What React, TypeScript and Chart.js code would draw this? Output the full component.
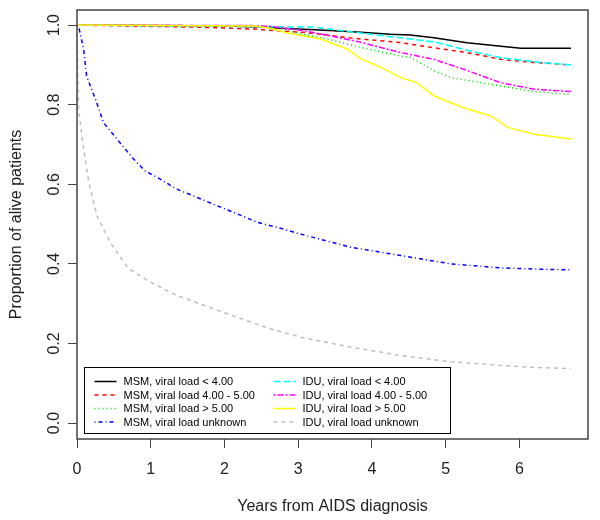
import React, { useEffect, useRef } from "react";
import { Chart, registerables } from "chart.js";

Chart.register(...registerables);

const FONT = "'Liberation Sans', Arial, Helvetica, sans-serif";

// ---- data (Kaplan-Meier survival) ----
const seriesLabels = [
  "MSM, viral load < 4.00",
  "MSM, viral load 4.00 - 5.00",
  "MSM, viral load > 5.00",
  "MSM, viral load unknown",
  "IDU, viral load < 4.00",
  "IDU, viral load 4.00 - 5.00",
  "IDU, viral load > 5.00",
  "IDU, viral load unknown",
];
const seriesColors = ["#000000", "#FF0000", "#00CD00", "#0000FF", "#00FFFF", "#FF00FF", "#FFFF00", "#BEBEBE"];
const seriesDashes = [[], [4, 4], [1, 3], [1, 3, 4, 3], [7, 3], [2, 2, 6, 2], [], [4, 4]];

const msmLt4Time = [0, 2.0, 2.5, 2.76, 3.3, 3.85, 4.25, 4.52, 4.84, 5.29, 5.75, 6.02, 6.7];
const msmLt4Surv = [1, 0.998, 0.995, 0.992, 0.988, 0.982, 0.977, 0.975, 0.968, 0.956, 0.947, 0.942, 0.942];

const msm45Time = [0, 1.6, 2.0, 2.4, 2.7, 3.07, 3.4, 3.75, 4.39, 4.84, 5.29, 5.75, 6.2, 6.7];
const msm45Surv = [1, 0.995, 0.993, 0.99, 0.986, 0.982, 0.975, 0.967, 0.956, 0.943, 0.931, 0.914, 0.906, 0.9];

const msmGt5Time = [0, 2.5, 2.76, 3.07, 3.44, 3.85, 4.39, 4.52, 4.84, 5.07, 5.75, 6.2, 6.7];
const msmGt5Surv = [1, 0.997, 0.992, 0.977, 0.963, 0.944, 0.922, 0.919, 0.886, 0.868, 0.847, 0.833, 0.826];

const msmUnkTime = [0, 0.03, 0.09, 0.13, 0.25, 0.36, 0.47, 0.58, 0.77, 0.92, 1.13, 1.35, 1.63, 1.9, 2.17, 2.44, 2.75, 3.03, 3.71, 4.39, 5.07, 5.75, 6.2, 6.7];
const msmUnkSurv = [1, 0.99, 0.939, 0.872, 0.814, 0.755, 0.73, 0.705, 0.663, 0.634, 0.613, 0.588, 0.567, 0.546, 0.526, 0.505, 0.49, 0.475, 0.442, 0.421, 0.4, 0.39, 0.387, 0.385];

const iduLt4Time = [0, 3.2, 3.5, 3.85, 4.39, 4.84, 5.29, 5.75, 6.29, 6.7];
const iduLt4Surv = [1, 0.995, 0.988, 0.98, 0.968, 0.958, 0.937, 0.918, 0.906, 0.9];

const idu45Time = [0, 2.3, 2.62, 3.07, 3.44, 3.85, 4.39, 4.84, 5.29, 5.75, 6.2, 6.7];
const idu45Surv = [1, 0.999, 0.997, 0.986, 0.973, 0.957, 0.931, 0.914, 0.886, 0.855, 0.839, 0.833];

const iduGt5Time = [0, 2.4, 2.62, 2.85, 3.3, 3.66, 3.85, 4.12, 4.39, 4.61, 4.84, 5.07, 5.29, 5.61, 5.84, 6.2, 6.7];
const iduGt5Surv = [1, 0.998, 0.992, 0.98, 0.965, 0.94, 0.915, 0.894, 0.868, 0.855, 0.822, 0.805, 0.789, 0.772, 0.743, 0.726, 0.714];

const iduUnkTime = [0, 0.02, 0.09, 0.16, 0.27, 0.45, 0.7, 1.0, 1.35, 1.72, 2.17, 2.62, 3.03, 3.71, 4.39, 5.07, 5.75, 6.2, 6.7];
const iduUnkSurv = [1, 0.79, 0.688, 0.605, 0.521, 0.454, 0.388, 0.354, 0.321, 0.296, 0.266, 0.237, 0.216, 0.191, 0.17, 0.154, 0.145, 0.14, 0.137];

const seriesTimes = [msmLt4Time, msm45Time, msmGt5Time, msmUnkTime, iduLt4Time, idu45Time, iduGt5Time, iduUnkTime];
const seriesSurv = [msmLt4Surv, msm45Surv, msmGt5Surv, msmUnkSurv, iduLt4Surv, idu45Surv, iduGt5Surv, iduUnkSurv];

const xTitle = "Years from AIDS diagnosis";
const yTitle = "Proportion of alive patients";

const AXIS_COLOR = "#444444";
const TEXT_COLOR = "#222222";

// Box around the plot region + R-style legend (bottom-left, two columns)
const rFramePlugin = {
  id: "rFrame",
  afterDraw(chart: any) {
    const { ctx, chartArea } = chart;
    ctx.save();
    ctx.strokeStyle = AXIS_COLOR;
    ctx.lineWidth = 1.5;
    ctx.setLineDash([]);
    ctx.strokeRect(chartArea.left, chartArea.top, chartArea.right - chartArea.left, chartArea.bottom - chartArea.top);

    // legend
    const bx = Math.round(chartArea.left + 7) + 0.5;
    const bw = 366;
    const bh = 66;
    const by = Math.round(chartArea.bottom - 6 - bh) + 0.5;
    ctx.fillStyle = "#ffffff";
    ctx.fillRect(bx, by, bw, bh);
    ctx.strokeStyle = "#000000";
    ctx.lineWidth = 1;
    ctx.strokeRect(bx, by, bw, bh);
    ctx.font = `11px ${FONT}`;
    ctx.textBaseline = "middle";
    ctx.textAlign = "left";
    const ds = chart.data.datasets;
    ds.forEach((d: any, i: number) => {
      const col = Math.floor(i / 4);
      const row = i % 4;
      const cx = bx + 10 + col * 179;
      const cy = by + 14 + row * 13.5;
      ctx.strokeStyle = d.borderColor;
      ctx.lineWidth = 1.5;
      ctx.setLineDash(d.borderDash || []);
      ctx.beginPath();
      ctx.moveTo(cx, cy);
      ctx.lineTo(cx + 22, cy);
      ctx.stroke();
      ctx.setLineDash([]);
      ctx.fillStyle = "#000000";
      ctx.fillText(d.label, cx + 29, cy + 0.5);
    });
    ctx.restore();
  },
};

export default function App() {
  const ref = useRef<HTMLCanvasElement>(null);
  useEffect(() => {
    if (!ref.current) return;
    const datasets = seriesLabels.map((label, i) => ({
      label,
      data: seriesTimes[i].map((t, j) => ({ x: t, y: seriesSurv[i][j] })),
      borderColor: seriesColors[i],
      backgroundColor: seriesColors[i],
      borderDash: seriesDashes[i],
      borderWidth: 1.5,
      pointRadius: 0,
      tension: 0,
      fill: false,
      order: seriesLabels.length - i,
    }));
    const chart = new Chart(ref.current, {
      type: "line",
      data: { datasets },
      plugins: [rFramePlugin],
      options: {
        responsive: false,
        animation: false,
        devicePixelRatio: 1,
        layout: { padding: { left: 0, top: 10, right: 12, bottom: 0 } },
        plugins: { legend: { display: false }, tooltip: { enabled: false } },
        scales: {
          x: {
            type: "linear",
            min: 0,
            max: 6.93,
            border: { display: false },
            grid: { drawOnChartArea: false, drawTicks: true, tickLength: 9, color: AXIS_COLOR, lineWidth: 1 },
            ticks: {
              stepSize: 1,
              includeBounds: false,
              padding: 12,
              color: TEXT_COLOR,
              font: { family: FONT, size: 16 },
              maxRotation: 0,
              minRotation: 0,
            },
            title: {
              display: true,
              text: xTitle,
              color: TEXT_COLOR,
              font: { family: FONT, size: 16 },
              padding: { top: 0, bottom: 4 },
            },
            afterFit(scale: any) {
              scale.height = 81;
              scale.paddingLeft = 0;
              scale.paddingRight = 0;
            },
          },
          y: {
            type: "linear",
            min: -0.04,
            max: 1.038,
            border: { display: false },
            grid: { drawOnChartArea: false, drawTicks: true, tickLength: 9, color: AXIS_COLOR, lineWidth: 1 },
            ticks: {
              stepSize: 0.2,
              includeBounds: false,
              padding: 2,
              crossAlign: "center",
              minRotation: 90,
              maxRotation: 90,
              color: TEXT_COLOR,
              font: { family: FONT, size: 16 },
              callback: (v: any) => Number(v).toFixed(1),
            },
            title: {
              display: true,
              text: yTitle,
              color: TEXT_COLOR,
              font: { family: FONT, size: 16 },
              padding: { top: 7, bottom: 0 },
            },
            afterFit(scale: any) {
              scale.width = 77;
              scale.paddingTop = 0;
              scale.paddingBottom = 0;
            },
          },
        },
      },
    } as any);
    return () => chart.destroy();
  }, []);
  return (
    <div style={{ position: "absolute", left: 0, top: 0, width: 600, height: 520, background: "#ffffff" }}>
      <canvas ref={ref} width={600} height={520} style={{ display: "block" }} />
    </div>
  );
}
